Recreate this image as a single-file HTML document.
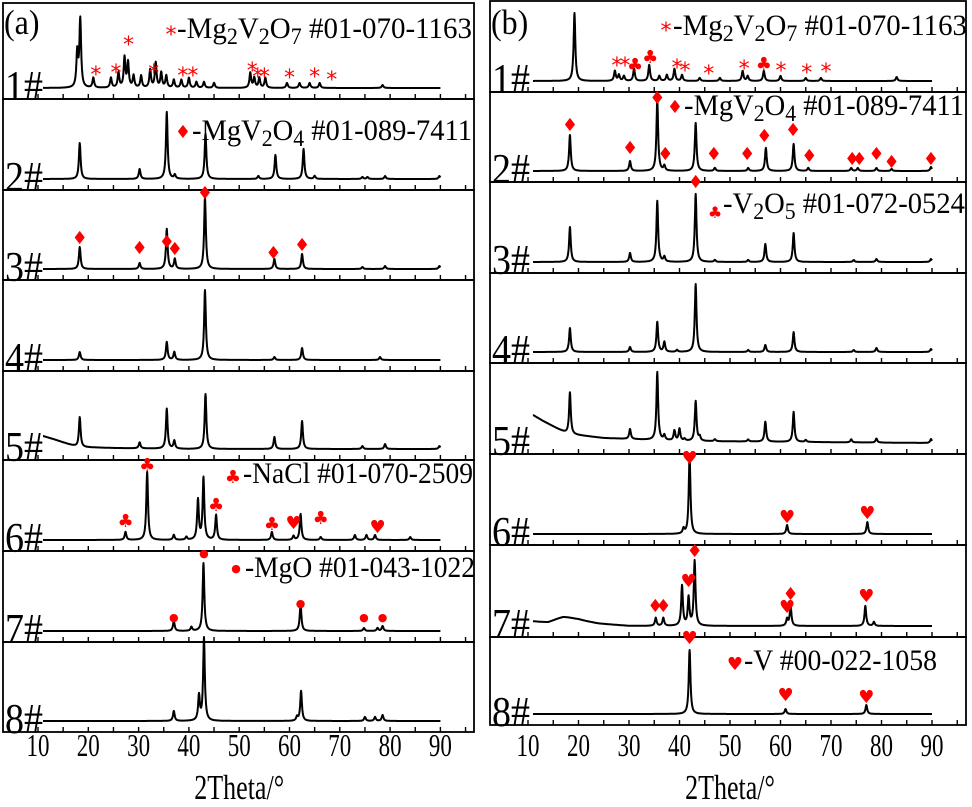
<!DOCTYPE html>
<html><head><meta charset="utf-8"><style>
html,body{margin:0;padding:0;background:#fff;}
svg{display:block;font-family:"Liberation Serif",serif;}
</style></head><body>
<svg id="fig" width="972" height="807" viewBox="0 0 972 807" xmlns="http://www.w3.org/2000/svg"></svg>
<script>
// ---------- DATA ----------
const samples = ["1#","2#","3#","4#","5#","6#","7#","8#"];
const xTicks = [10,20,30,40,50,60,70,80,90];
const aPos = [
 [17.8,18.4,21,24.5,26,27.2,27.9,29,30.5,32.3,33.4,34.5,35.5,37,38.5,40,41.5,43,45,52.2,53,54,55.2,59.5,62,64,66,78.5],
 [18.3,30.2,35.6,37.2,43.3,53.8,57.2,62.8,65,74.5,75.5,79,89.8],
 [18.3,30.2,35.6,37.2,43.2,57,62.5,74.5,79,89.8],
 [18.3,35.6,37.1,43.2,57,62.5,78],
 [18.3,30.2,35.6,37.1,43.3,57,62.5,74.5,79,89.8],
 [27.4,31.7,37,39.5,41.8,42.9,45.4,56.5,60.8,62.2,66.2,73,75.3,77,84],
 [37,40.5,42.9,62.2,74.8,77.5,78.5],
 [37,42,43,61.5,62.3,75,77,78.5]
];
const aH = [
 [35,68,10,10,15,30,25,12,12,18,25,15,12,8,8,10,6,6,5,15,10,10,10,5,5,5,5,3],
 [36,10,67,4,45,3,24,30,3,2,2,3,3],
 [22,6,40,10,72,10,15,2,3,3],
 [8,18,8,70,3,12,3],
 [30,6,40,8,55,12,28,3,5,3],
 [8,68,5,3,40,62,25,8,4,26,3,5,5,5,3],
 [10,4,68,27,3,3,5],
 [10,25,83,4,30,4,4,6]
];
const bPos = [
 [19.2,27.2,28,29,31,34,36,37.5,39,40.5,44,48,52.5,53.5,56.7,60,65,68,83],
 [18.3,30.2,35.6,37,43.2,47,53.6,57.1,62.6,65.5,74,75.3,79,82,89.8],
 [18.3,30.2,35.6,37,43.2,47,53.6,57,62.6,74.5,79,89.8],
 [18.3,30.2,35.6,37,39.5,43.2,53.6,57,62.6,74.5,79,89.8],
 [18.3,30.2,35.6,37,39,40,41,43.2,44,47,53.6,57,62.6,65,74,79,89.8],
 [40.8,42,61.3,77.2],
 [17,35.3,36.8,40.5,41.8,43,61.3,62,76.8,78.5],
 [42,61,77]
];
const bH = [
 [68,10,6,5,12,16,5,6,12,6,3,3,10,5,10,5,3,3,4],
 [36,10,71,5,48,3,3,23,27,3,3,3,3,2,4],
 [35,9,61,5,68,2,2,18,29,2,3,3],
 [24,5,30,10,2,68,2,7,20,2,4,3],
 [42,10,68,5,10,12,2,40,4,2,2,20,30,2,3,4,4],
 [5,78,9,12],
 [4,8,8,40,28,65,7,20,20,4],
 [64,5,9]
];
const aBgDeg = [[],[],[],[],[11,13,16,18,25,40,90],[],[],[]];
const aBgVal = [[],[],[],[],[13,10,5,2,1,0,0],[],[],[]];
const bBgDeg = [[],[],[],[],[11,13,16,18,25,40,90],[],[11,14,17,20,24,30,90],[]];
const bBgVal = [[],[],[],[],[28,22,14,9,5,2,0],[],[4,2,5,5,2,0,0],[]];
const aMkDeg = [[21.5,25.5,28,33,38.8,40.8,52.6,53.7,55,60,65,68.4],[],[18.3,30.2,35.6,37.2,43.2,56.8,62.5],[],[],[27.4,31.7,45.4,56.5,66.2,60.8,77.5],[37,43,62.2,74.8,78.5],[]];
const aMkH = [[18,20,48,20,17,17,22,16,16,15,16,13],[],[31,21,27,20,76,16,24],[],[],[19,75,35,16,22,17,13],[16,80,30,16,16],[]];
const aMkSym = ["*","","♦","","","♣♣♣♣♣♥♥","●","",""];
const bMkDeg = [[27.6,29.2,31.2,34.2,39.5,41.1,45.8,52.8,56.7,60.1,65.2,69],[18.3,30.2,35.6,37.2,46.8,53.4,56.8,62.5,65.7,74.2,75.6,79,82,89.8],[43.2],[],[],[42,61.3,77.2],[35.2,36.8,41.8,43,62,61.3,77],[42,61,77]];
const bMkH = [[20,20,16,24,18,15,12,17,17,15,13,14],[46,23,73,17,17,17,35,41,15,12,12,17,9,12],[80],[],[],[76,17,21],[20,20,45,75,32,19,30],[76,19,17]];
const bMkSym = ["**♣♣****♣***","♦♦♦♦♦♦♦♦♦♦♦♦♦♦","♦","","","♥♥♥","♦♦♥♦♦♥♥","♥♥♥"];

// ---------- LAYOUT ----------
const svg=document.getElementById('fig');
const NS='http://www.w3.org/2000/svg';
function mk(tag,attrs,parent){const e=document.createElementNS(NS,tag);for(const k in attrs)e.setAttribute(k,attrs[k]);(parent||svg).appendChild(e);return e;}
const panels=[
 {id:'a',x0:3,x1:474,xs:d=>38+(d-10)*5.03,bounds:[3,99,190,280,371,460,551,642,732],pos:aPos,h:aH,bgD:aBgDeg,bgV:aBgVal,mD:aMkDeg,mH:aMkH,mS:aMkSym},
 {id:'b',x0:490,x1:966,xs:d=>528+(d-10)*5.05,bounds:[1,92,182,273,363,454,545,637,725],pos:bPos,h:bH,bgD:bBgDeg,bgV:bBgVal,mD:bMkDeg,mH:bMkH,mS:bMkSym}
];
function bg(dd,vv,d){if(!dd.length)return 0;if(d<=dd[0])return vv[0];for(let i=1;i<dd.length;i++){if(d<=dd[i]){const t=(d-dd[i-1])/(dd[i]-dd[i-1]);return vv[i-1]+t*(vv[i]-vv[i-1]);}}return vv[vv.length-1];}
panels.forEach(P=>{
 const g=mk('g',{});
 
 
 for(let i=0;i<8;i++){
  const top=P.bounds[i],bot=P.bounds[i+1];
  const base=bot-11;
  const r=mk('rect',{x:P.x0,y:top,width:P.x1-P.x0,height:bot-top,fill:'none',stroke:'#000','stroke-width':1.8},g);
  
  
  for(let d=10;d<=95;d+=5){
   const x=P.xs(d);
   const t=mk('line',{x1:x,x2:x,y1:bot,y2:bot-5,stroke:'#000','stroke-width':1.4},g);
   
   
  }
  let pts=[];
  const pos=P.pos[i],hh=P.h[i];
  for(let d=11;d<=90.001;d+=0.05){
   let v=bg(P.bgD[i],P.bgV[i],d);
   for(let k=0;k<pos.length;k++){const w=(pos[k]===17&&P.id==='b')?3:0.2;const u=(d-pos[k])/w;v+=hh[k]/(1+u*u);}
   pts.push(P.xs(d).toFixed(1)+','+(base-v).toFixed(1));
  }
  const pl=mk('polyline',{points:pts.join(' '),fill:'none',stroke:'#000','stroke-width':2,'stroke-linejoin':'round'},g);
  
  
  const md=P.mD[i],mh=P.mH[i];
  for(let k=0;k<md.length;k++){
   const s=P.mS[i].length===1?P.mS[i]:[...P.mS[i]][k];
   const fs=s==='*'?22:(s==='●'?11:18);
   const dy=s==='*'?12:6;
   const m=mk('text',{x:P.xs(md[k]),y:base-mh[k]+dy,'text-anchor':'middle','font-size':fs,fill:'#f00','font-family':'DejaVu Sans, sans-serif'},g);
   m.textContent=s;
   
   
  }
  const lb=mk('text',{transform:'translate('+(P.x0+2)+','+(bot+1)+') scale(1,1.12)','font-size':38},g);
  lb.textContent=samples[i];
  
  
 }
 const pl=mk('text',{transform:'translate('+(P.x0+1)+',34) scale(1,1.1)','font-size':32},g);
 pl.textContent='('+P.id+')';
 
 
 xTicks.forEach(d=>{
  const t=mk('text',{transform:'translate('+P.xs(d)+',756) scale(1,1.4)','text-anchor':'middle','font-size':23},g);
  t.textContent=d;
  
  
 });
 const tt=mk('text',{transform:'translate('+P.xs(50)+',799) scale(1,1.35)','text-anchor':'middle','font-size':26},g);
 tt.textContent='2Theta/°';
 
 
});
</script>
<svg style="position:absolute;left:0;top:0" width="972" height="807" font-family="Liberation Serif, serif" font-size="25">
 <g>
  <text x="171" y="42" fill="#f00" font-size="22" text-anchor="middle" font-family="DejaVu Sans">*</text>
  <text transform="translate(177,38) scale(1,1.2)" textLength="295" lengthAdjust="spacingAndGlyphs">-Mg<tspan dy="5" font-size="19">2</tspan><tspan dy="-5">V</tspan><tspan dy="5" font-size="19">2</tspan><tspan dy="-5">O</tspan><tspan dy="5" font-size="19">7</tspan><tspan dy="-5"> #01-070-1163</tspan></text>
 </g>
 <g>
  <text x="183" y="138" fill="#f00" font-size="18" text-anchor="middle" font-family="DejaVu Sans">♦</text>
  <text transform="translate(192,140) scale(1,1.2)" textLength="280" lengthAdjust="spacingAndGlyphs">-MgV<tspan dy="5" font-size="19">2</tspan><tspan dy="-5">O</tspan><tspan dy="5" font-size="19">4</tspan><tspan dy="-5">  #01-089-7411</tspan></text>
 </g>
 <g>
  <text x="233" y="483" fill="#f00" font-size="18" text-anchor="middle" font-family="DejaVu Sans">♣</text>
  <text transform="translate(243,483) scale(1,1.2)" textLength="230" lengthAdjust="spacingAndGlyphs">-NaCl #01-070-2509</text>
 </g>
 <g>
  <text x="236" y="572" fill="#f00" font-size="11" text-anchor="middle" font-family="DejaVu Sans">●</text>
  <text transform="translate(245,577) scale(1,1.2)" textLength="230" lengthAdjust="spacingAndGlyphs">-MgO #01-043-1022</text>
 </g>
 <g>
  <text x="666" y="38" fill="#f00" font-size="22" text-anchor="middle" font-family="DejaVu Sans">*</text>
  <text transform="translate(673,35) scale(1,1.2)" textLength="294" lengthAdjust="spacingAndGlyphs">-Mg<tspan dy="5" font-size="19">2</tspan><tspan dy="-5">V</tspan><tspan dy="5" font-size="19">2</tspan><tspan dy="-5">O</tspan><tspan dy="5" font-size="19">7</tspan><tspan dy="-5">  #01-070-1163</tspan></text>
 </g>
 <g>
  <text x="675" y="113" fill="#f00" font-size="18" text-anchor="middle" font-family="DejaVu Sans">♦</text>
  <text transform="translate(684,115) scale(1,1.2)" textLength="280" lengthAdjust="spacingAndGlyphs">-MgV<tspan dy="5" font-size="19">2</tspan><tspan dy="-5">O</tspan><tspan dy="5" font-size="19">4</tspan><tspan dy="-5">  #01-089-7411</tspan></text>
 </g>
 <g>
  <text x="715" y="218" fill="#f00" font-size="16" text-anchor="middle" font-family="DejaVu Sans">♣</text>
  <text transform="translate(723,213) scale(1,1.2)" textLength="242" lengthAdjust="spacingAndGlyphs">-V<tspan dy="5" font-size="19">2</tspan><tspan dy="-5">O</tspan><tspan dy="5" font-size="19">5</tspan><tspan dy="-5">  #01-072-0524</tspan></text>
 </g>
 <g>
  <text x="735" y="670" fill="#f00" font-size="18" text-anchor="middle" font-family="DejaVu Sans">♥</text>
  <text transform="translate(744,670) scale(1,1.2)" textLength="193" lengthAdjust="spacingAndGlyphs">-V #00-022-1058</text>
 </g>
</svg>
</body></html>
